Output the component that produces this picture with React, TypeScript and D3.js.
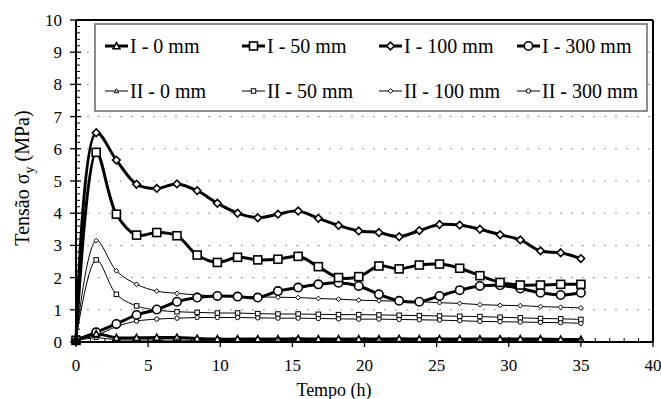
import React from "react";
import * as d3 from "d3";

const times = [0, 1.4, 2.8, 4.2, 5.6, 7, 8.4, 9.8, 11.2, 12.6, 14, 15.4, 16.8, 18.2, 19.6, 21, 22.4, 23.8, 25.2, 26.6, 28, 29.4, 30.8, 32.2, 33.6, 35];

const I0 = [0.05, 0.25, 0.13, 0.13, 0.14, 0.14, 0.11, 0.09, 0.09, 0.09, 0.09, 0.1, 0.09, 0.09, 0.09, 0.09, 0.1, 0.09, 0.09, 0.09, 0.09, 0.09, 0.09, 0.09, 0.08, 0.08];
const I50 = [0.05, 5.89, 3.97, 3.32, 3.4, 3.3, 2.7, 2.47, 2.63, 2.55, 2.57, 2.66, 2.34, 2.0, 2.03, 2.36, 2.27, 2.39, 2.42, 2.29, 2.06, 1.85, 1.77, 1.77, 1.79, 1.79];
const I100 = [0.05, 6.5, 5.65, 4.9, 4.77, 4.91, 4.7, 4.31, 4.0, 3.86, 3.97, 4.07, 3.84, 3.62, 3.45, 3.4, 3.27, 3.46, 3.65, 3.63, 3.5, 3.33, 3.17, 2.83, 2.77, 2.59];
const I300 = [0.05, 0.3, 0.56, 0.84, 1.01, 1.25, 1.38, 1.43, 1.41, 1.38, 1.58, 1.69, 1.79, 1.84, 1.74, 1.48, 1.28, 1.25, 1.43, 1.61, 1.74, 1.76, 1.66, 1.53, 1.46, 1.53];
const II0 = [0.05, 0.13, 0.07, 0.06, 0.06, 0.06, 0.05, 0.05, 0.05, 0.05, 0.05, 0.05, 0.05, 0.05, 0.05, 0.05, 0.05, 0.05, 0.05, 0.05, 0.05, 0.05, 0.05, 0.05, 0.05, 0.05];
const II50 = [0.05, 2.55, 1.48, 1.12, 0.99, 0.94, 0.92, 0.9, 0.9, 0.88, 0.87, 0.87, 0.86, 0.85, 0.85, 0.84, 0.83, 0.82, 0.81, 0.8, 0.79, 0.77, 0.75, 0.73, 0.72, 0.7];
const II100 = [0.05, 3.15, 2.21, 1.79, 1.58, 1.51, 1.46, 1.43, 1.41, 1.4, 1.39, 1.38, 1.35, 1.33, 1.3, 1.28, 1.27, 1.25, 1.22, 1.2, 1.16, 1.14, 1.13, 1.1, 1.08, 1.06];
const II300 = [0.05, 0.2, 0.48, 0.65, 0.71, 0.74, 0.76, 0.76, 0.76, 0.75, 0.74, 0.74, 0.73, 0.72, 0.71, 0.71, 0.7, 0.69, 0.68, 0.66, 0.64, 0.63, 0.62, 0.61, 0.6, 0.58];

const xTicks = [0, 5, 10, 15, 20, 25, 30, 35, 40];
const yTicks = [0, 1, 2, 3, 4, 5, 6, 7, 8, 9, 10];

type Shape = "triangle" | "square" | "diamond" | "circle";
interface Series { name: string; values: number[]; shape: Shape; thick: boolean }

const series: Series[] = [
  { name: "II - 0 mm", values: II0, shape: "triangle", thick: false },
  { name: "II - 50 mm", values: II50, shape: "square", thick: false },
  { name: "II - 100 mm", values: II100, shape: "diamond", thick: false },
  { name: "II - 300 mm", values: II300, shape: "circle", thick: false },
  { name: "I - 300 mm", values: I300, shape: "circle", thick: true },
  { name: "I - 50 mm", values: I50, shape: "square", thick: true },
  { name: "I - 100 mm", values: I100, shape: "diamond", thick: true },
  { name: "I - 0 mm", values: I0, shape: "triangle", thick: true },
];

const legendOrder = ["I - 0 mm", "I - 50 mm", "I - 100 mm", "I - 300 mm", "II - 0 mm", "II - 50 mm", "II - 100 mm", "II - 300 mm"];

const txt = { fontFamily: '"Liberation Serif", "Times New Roman", Tinos', fontWeight: 400 as const };

function Marker({ shape, thick, cx, cy }: { shape: Shape; thick: boolean; cx: number; cy: number }) {
  const sw = thick ? 1.6 : 1;
  const common = { fill: "#fff", stroke: "#000", strokeWidth: sw };
  if (shape === "circle") {
    return <circle cx={cx} cy={cy} r={thick ? 4.2 : 2.2} {...common} />;
  }
  if (shape === "square") {
    const s = thick ? 8 : 4.5;
    return <rect x={cx - s / 2} y={cy - s / 2} width={s} height={s} {...common} />;
  }
  if (shape === "diamond") {
    const s = thick ? 3.8 : 2.4;
    return <path d={`M${cx},${cy - s}L${cx + s},${cy}L${cx},${cy + s}L${cx - s},${cy}Z`} {...common} />;
  }
  const s = thick ? 3.4 : 2.2;
  return <path d={`M${cx},${cy - s}L${cx + s},${cy + s * 0.8}L${cx - s},${cy + s * 0.8}Z`} {...common} />;
}

export default function App() {
  const W = 661, H = 399;
  const x = d3.scaleLinear().domain([0, 40]).range([76, 653]);
  const y = d3.scaleLinear().domain([0, 10]).range([342, 20]);
  const line = d3.line<number>()
    .x((_, i) => x(times[i]))
    .y((d) => y(d))
    .curve(d3.curveCatmullRom.alpha(0.5));

  const yMinor = d3.range(0, 10.001, 0.2).filter((v) => Math.abs(v - Math.round(v)) > 0.01);
  const xMinor = d3.range(0, 40.001, 1).filter((v) => v % 5 !== 0);

  const legendCols = [105, 242, 379, 517];
  const legendRows = [46, 91];

  return (
    <svg width={W} height={H} style={{ position: "absolute", left: 0, top: 0 }}>
      <rect width={W} height={H} fill="#fff" />
      {yTicks.slice(1, -1).map((t) => (
        <line key={"g" + t} x1={x(0)} x2={x(40)} y1={y(t)} y2={y(t)} stroke="#999" strokeWidth={1} strokeDasharray="2,9" />
      ))}
      <rect x={95} y={24} width={552} height={87} fill="#fff" stroke="#666" strokeWidth={1.5} />
      {legendOrder.map((name, i) => {
        const s = series.find((d) => d.name === name)!;
        const cx0 = legendCols[i % 4];
        const cy = legendRows[Math.floor(i / 4)];
        return (
          <g key={"l" + name}>
            <line x1={cx0} x2={cx0 + 23} y1={cy} y2={cy} stroke="#000" strokeWidth={s.thick ? 3 : 1} />
            <Marker shape={s.shape} thick={s.thick} cx={cx0 + 11.5} cy={cy} />
            <text x={cx0 + 25} y={cy + 7} fontSize={20} fill="#000" style={txt}>{name}</text>
          </g>
        );
      })}
      {series.map((s) => (
        <path key={"p" + s.name} d={line(s.values) || ""} fill="none" stroke="#000" strokeWidth={s.thick ? 3 : 1} strokeLinejoin="round" />
      ))}
      {series.map((s) => (
        <g key={"m" + s.name}>
          {s.values.map((v, i) => (
            <Marker key={i} shape={s.shape} thick={s.thick} cx={x(times[i])} cy={y(v)} />
          ))}
        </g>
      ))}
      <line x1={x(0)} x2={x(40)} y1={y(10)} y2={y(10)} stroke="#000" strokeWidth={2} />
      <line x1={x(40)} x2={x(40)} y1={y(10)} y2={y(0)} stroke="#000" strokeWidth={2} />
      <line x1={x(0)} x2={x(40)} y1={y(0)} y2={y(0)} stroke="#000" strokeWidth={2} />
      <line x1={x(0)} x2={x(0)} y1={y(10)} y2={y(0)} stroke="#000" strokeWidth={2} />
      {yTicks.map((t) => (
        <g key={"yt" + t}>
          <line x1={x(0) - 6} x2={x(0) + 5} y1={y(t)} y2={y(t)} stroke="#000" strokeWidth={1.3} />
          <text x={62} y={y(t) + 6} fontSize={17} textAnchor="end" style={txt}>{t}</text>
        </g>
      ))}
      {yMinor.map((t) => (
        <line key={"ym" + t} x1={x(0)} x2={x(0) + 4} y1={y(t)} y2={y(t)} stroke="#000" strokeWidth={1} />
      ))}
      {xTicks.map((t) => (
        <g key={"xt" + t}>
          <line x1={x(t)} x2={x(t)} y1={y(0) - 5} y2={y(0) + 5} stroke="#000" strokeWidth={1.3} />
          <text x={x(t)} y={371} fontSize={17} textAnchor="middle" style={txt}>{t}</text>
        </g>
      ))}
      {xMinor.map((t) => (
        <line key={"xm" + t} x1={x(t)} x2={x(t)} y1={y(0) - 4} y2={y(0)} stroke="#000" strokeWidth={1} />
      ))}
      <text x={334} y={396} fontSize={18} textAnchor="middle" style={txt}>Tempo (h)</text>
      <text transform="translate(29,178) rotate(-90)" fontSize={20} textAnchor="middle" style={txt}>
        Tensão σ<tspan fontSize={14} dy={5}>y</tspan><tspan dy={-5}> (MPa)</tspan>
      </text>
    </svg>
  );
}
